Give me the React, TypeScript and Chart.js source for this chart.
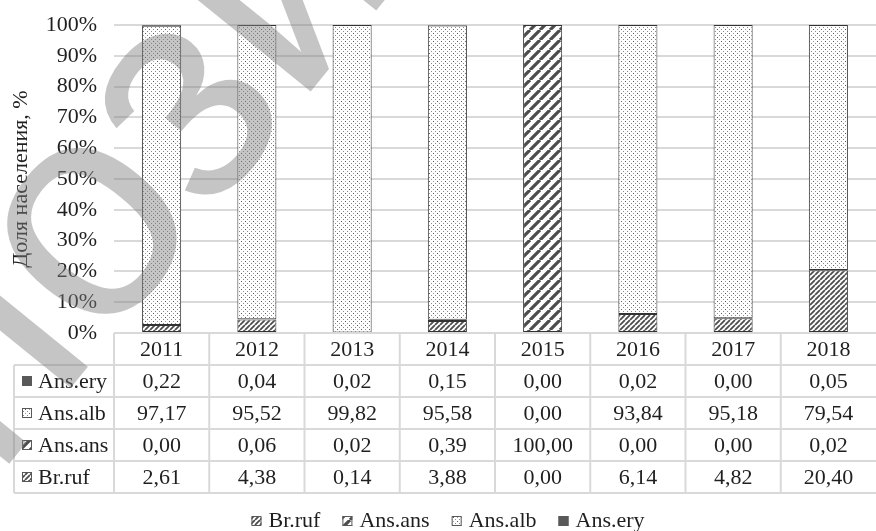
import React, { useEffect, useRef } from "react";
import { Chart, registerables } from "chart.js";

Chart.register(...registerables);

// Years on the category axis
const years = ["2011", "2012", "2013", "2014", "2015", "2016", "2017", "2018"];

// Share of each species in the population, %
const brRuf = [2.61, 4.38, 0.14, 3.88, 0.0, 6.14, 4.82, 20.4];
const ansAns = [0.0, 0.06, 0.02, 0.39, 100.0, 0.0, 0.0, 0.02];
const ansAlb = [97.17, 95.52, 99.82, 95.58, 0.0, 93.84, 95.18, 79.54];
const ansEry = [0.22, 0.04, 0.02, 0.15, 0.0, 0.02, 0.0, 0.05];

const seriesNames = ["Br.ruf", "Ans.ans", "Ans.alb", "Ans.ery"];
const yTicks = [0, 10, 20, 30, 40, 50, 60, 70, 80, 90, 100];
const yTitle = "Доля населения, %";
const watermark = "Репозиторий";

const SERIF = '"Liberation Serif", "Times New Roman", serif';
const TEXT = "#1f1f1f";
const GRID = "#d9d9d9";

function tile(size: number, draw: (g: CanvasRenderingContext2D) => void) {
  const c = document.createElement("canvas");
  c.width = size;
  c.height = size;
  const g = c.getContext("2d")!;
  g.fillStyle = "#ffffff";
  g.fillRect(0, 0, size, size);
  draw(g);
  return c;
}

function hatchTile(size: number, lw: number, color: string) {
  return tile(size, (g) => {
    g.strokeStyle = color;
    g.lineWidth = lw;
    g.beginPath();
    for (const o of [-size, 0, size]) {
      g.moveTo(o, size);
      g.lineTo(o + size, 0);
    }
    g.stroke();
  });
}

function dotTile() {
  return tile(8, (g) => {
    const dots: [number, number, string][] = [
      [1, 1, "#5a5a5a"],
      [5, 1, "#9a9a9a"],
      [3, 3, "#8a8a8a"],
      [7, 3, "#8a8a8a"],
      [1, 5, "#9a9a9a"],
      [5, 5, "#5a5a5a"],
      [3, 7, "#8a8a8a"],
      [7, 7, "#8a8a8a"],
    ];
    for (const [x, y, c] of dots) {
      g.fillStyle = c;
      g.fillRect(x, y, 1, 1);
    }
  });
}

const fmt = (v: number) => v.toFixed(2).replace(".", ",");

export default function App() {
  const ref = useRef<HTMLCanvasElement>(null);

  useEffect(() => {
    const canvas = ref.current!;
    const c2d = canvas.getContext("2d")!;
    const fills = [
      c2d.createPattern(hatchTile(5, 1.8, "#4d4d4d"), "repeat")!,
      c2d.createPattern(hatchTile(10, 3.2, "#4d4d4d"), "repeat")!,
      c2d.createPattern(dotTile(), "repeat")!,
      "#595959",
    ];
    const seriesData = [brRuf, ansAns, ansAlb, ansEry];

    const tablePlugin = {
      id: "dataTable",
      afterDraw(chart: any) {
        const { ctx, chartArea, scales } = chart;
        const x = scales.x;
        const top = chartArea.bottom;
        const rowH = 32;
        const labelLeft = 14;
        const left = chartArea.left;
        const right = chartArea.right;
        const cw = (right - left) / years.length;

        ctx.save();
        ctx.strokeStyle = GRID;
        ctx.lineWidth = 2;
        ctx.beginPath();
        ctx.moveTo(left, top);
        ctx.lineTo(right, top);
        for (let i = 1; i <= 5; i++) {
          ctx.moveTo(labelLeft, top + i * rowH);
          ctx.lineTo(right, top + i * rowH);
        }
        ctx.moveTo(labelLeft, top + rowH);
        ctx.lineTo(labelLeft, top + 5 * rowH);
        for (let i = 0; i < years.length; i++) {
          const xb = x.getPixelForValue(i) - cw / 2;
          ctx.moveTo(xb, top);
          ctx.lineTo(xb, top + 5 * rowH);
        }
        ctx.stroke();

        ctx.font = `22px ${SERIF}`;
        ctx.fillStyle = TEXT;
        ctx.textAlign = "center";
        ctx.textBaseline = "middle";
        years.forEach((y, i) => {
          ctx.fillText(y, x.getPixelForValue(i), top + rowH / 2 + 1);
        });

        // rows run from the top series of the stack down to the bottom one
        const order = [3, 2, 1, 0];
        order.forEach((s, r) => {
          const cy = top + (r + 1) * rowH + rowH / 2 + 1;
          ctx.fillStyle = fills[s] as any;
          ctx.fillRect(22, cy - 6, 10, 10);
          ctx.strokeStyle = "#595959";
          ctx.lineWidth = 1;
          ctx.strokeRect(22.5, cy - 5.5, 9, 9);
          ctx.fillStyle = TEXT;
          ctx.textAlign = "left";
          ctx.fillText(seriesNames[s], 38, cy);
          ctx.textAlign = "center";
          seriesData[s].forEach((v, i) => {
            ctx.fillText(fmt(v), x.getPixelForValue(i), cy);
          });
        });

        // legend
        const box = 10;
        const gap = 7;
        const itemGap = 22;
        const widths = seriesNames.map((n) => box + gap + ctx.measureText(n).width);
        const total = widths.reduce((a, b) => a + b, 0) + itemGap * (widths.length - 1);
        let lx = 448 - total / 2;
        const ly = 521;
        seriesNames.forEach((n, s) => {
          ctx.fillStyle = fills[s] as any;
          ctx.fillRect(lx, ly - 5, box, box);
          ctx.strokeStyle = "#595959";
          ctx.lineWidth = 1;
          ctx.strokeRect(lx + 0.5, ly - 4.5, box - 1, box - 1);
          ctx.fillStyle = TEXT;
          ctx.textAlign = "left";
          ctx.fillText(n, lx + box + gap, ly);
          lx += widths[s] + itemGap;
        });
        ctx.restore();
      },
    };

    const watermarkPlugin = {
      id: "watermark",
      afterDraw(chart: any) {
        const ctx = chart.ctx;
        const fs = 310;
        ctx.save();
        ctx.font = `${fs}px "Liberation Sans", Arial, sans-serif`;
        const pre = ctx.measureText(watermark.slice(0, 4)).width;
        const zw = ctx.measureText(watermark[4]).width;
        ctx.translate(192, 110);
        ctx.rotate((-51 * Math.PI) / 180);
        ctx.fillStyle = "rgba(128,128,128,0.46)";
        ctx.textBaseline = "alphabetic";
        ctx.fillText(watermark, -(pre + zw / 2), fs * 0.26);
        ctx.restore();
      },
    };

    const chart = new Chart(canvas, {
      type: "bar",
      data: {
        labels: years,
        datasets: seriesNames.map((name, s) => ({
          label: name,
          data: seriesData[s],
          backgroundColor: fills[s] as any,
          borderColor: "#333333",
          borderWidth: 1,
          borderSkipped: false,
          barPercentage: 0.41,
          categoryPercentage: 1,
        })),
      },
      options: {
        animation: false,
        responsive: true,
        maintainAspectRatio: false,
        layout: { padding: { top: 25, bottom: 38, left: 0, right: 0 } },
        plugins: {
          legend: { display: false },
          tooltip: { enabled: false },
        },
        scales: {
          x: {
            stacked: true,
            ticks: { display: false },
            grid: { display: false },
            border: { display: false },
            afterFit: (s: any) => {
              s.height = 160;
              s.paddingLeft = 0;
              s.paddingRight = 0;
            },
          },
          y: {
            stacked: true,
            min: 0,
            max: 100,
            afterBuildTicks: (s: any) => {
              s.ticks = yTicks.map((v) => ({ value: v }));
            },
            ticks: {
              padding: 17,
              color: TEXT,
              font: { family: SERIF, size: 22 },
              callback: (v: any) => `${v}%`,
            },
            grid: { color: GRID, lineWidth: 2, drawTicks: false },
            border: { display: false },
            title: {
              display: true,
              text: yTitle,
              color: TEXT,
              font: { family: SERIF, size: 22 },
              padding: { top: 8, bottom: 0 },
            },
            afterFit: (s: any) => {
              s.width = 114;
              s.paddingTop = 0;
              s.paddingBottom = 0;
            },
          },
        },
      },
      plugins: [tablePlugin, watermarkPlugin],
    });

    return () => chart.destroy();
  }, []);

  return (
    <div style={{ position: "fixed", left: 0, top: 0, width: 876, height: 531, background: "#fff" }}>
      <canvas ref={ref} />
    </div>
  );
}
